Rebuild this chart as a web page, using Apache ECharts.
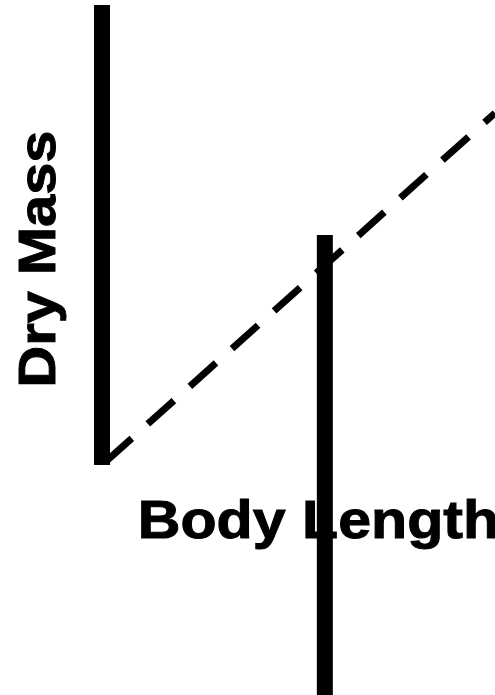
<!DOCTYPE html>
<html>
<head>
<meta charset="utf-8">
<script src="https://cdn.jsdelivr.net/npm/echarts@6/dist/echarts.min.js"></script>
<style>
  html, body { margin: 0; padding: 0; background: #fff; }
  #chart { width: 495px; height: 695px; }
</style>
</head>
<body>
<div id="chart"></div>
<script>
// axis bar (left), dashed trend, and the marker bar at one body length
const axisBarX = [0, 0];
const axisBarY = [0, 100];
const trendX = [0, 100];
const trendY = [0, 76.5];
const markerX = [56.7, 56.7];
const markerY = [-50, 50];

const yTitle = "Dry Mass";
const xTitle = "Body Length";

const pairs = (xs, ys) => xs.map((x, i) => [x, ys[i]]);

const chart = echarts.init(document.getElementById("chart"));

const solid = {
  color: "#000",
  width: 16,
  cap: "butt"
};

chart.setOption({
  animation: false,
  grid: { left: 102, right: 0, top: 5, bottom: 0 },
  xAxis: { type: "value", min: 0, max: 100, show: false },
  yAxis: { type: "value", min: -50, max: 100, show: false },
  graphic: [
    {
      type: "text",
      x: 40.5,
      y: 259,
      rotation: Math.PI / 2,
      scaleX: 1.1,
      style: {
        text: yTitle,
        fill: "#000",
        stroke: "#000",
        lineWidth: 1,
        font: "bold 52.5px 'Liberation Sans', Arial, sans-serif",
        align: "center",
        verticalAlign: "middle"
      }
    },
    {
      type: "text",
      x: 137.8,
      y: 522.8,
      scaleX: 1.085,
      style: {
        text: xTitle,
        fill: "#000",
        stroke: "#000",
        lineWidth: 1,
        font: "bold 54.5px 'Liberation Sans', Arial, sans-serif",
        align: "left",
        verticalAlign: "middle"
      }
    }
  ],
  series: [
    {
      type: "line",
      data: pairs(trendX, trendY),
      symbol: "none",
      clip: false,
      silent: true,
      lineStyle: {
        color: "#000",
        width: 7,
        type: [35, 21.5],
        dashOffset: 51.5,
        cap: "butt"
      }
    },
    {
      type: "line",
      data: pairs(axisBarX, axisBarY),
      symbol: "none",
      clip: false,
      silent: true,
      lineStyle: solid
    },
    {
      type: "line",
      data: pairs(markerX, markerY),
      symbol: "none",
      clip: false,
      silent: true,
      lineStyle: solid
    }
  ]
});
</script>
</body>
</html>
